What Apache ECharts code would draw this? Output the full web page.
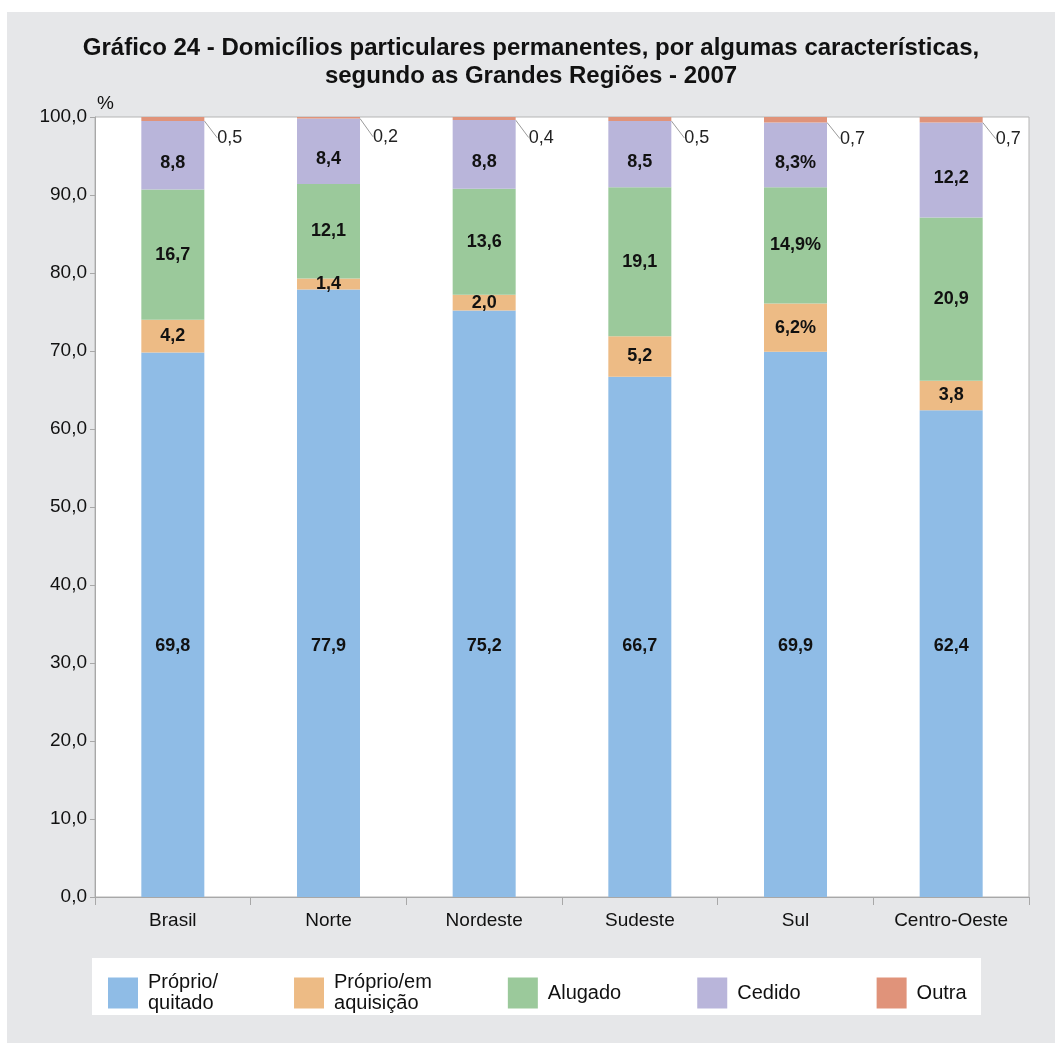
<!DOCTYPE html>
<html>
<head>
<meta charset="utf-8">
<title>Gráfico 24</title>
<script src="https://cdn.jsdelivr.net/npm/echarts@6/dist/echarts.min.js"></script>
<style>
  html, body { margin: 0; padding: 0; background: #ffffff; }
  #main {
    position: absolute;
    left: 7px;
    top: 12px;
    width: 1048px;
    height: 1031px;
    background: #e6e7e9;
  }
</style>
</head>
<body>
<div id="main"></div>
<script>
// categorias (Grandes Regiões)
const regioes = ['Brasil', 'Norte', 'Nordeste', 'Sudeste', 'Sul', 'Centro-Oeste']

// séries, em %
const proprioQuitado = [69.8, 77.9, 75.2, 66.7, 69.9, 62.4]
const proprioAquisicao = [4.2, 1.4, 2.0, 5.2, 6.2, 3.8]
const alugado = [16.7, 12.1, 13.6, 19.1, 14.9, 20.9]
const cedido = [8.8, 8.4, 8.8, 8.5, 8.3, 12.2]
const outra = [0.5, 0.2, 0.4, 0.5, 0.7, 0.7]

// o gráfico original traz "%" em alguns rótulos da região Sul
const sufixoRotulo = ['', '', '', '', '%', '']

const nomes = ['Próprio/\nquitado', 'Próprio/em\naquisição', 'Alugado', 'Cedido', 'Outra']
const cores = ['#8fbce6', '#edbb85', '#9bc99b', '#b9b5da', '#e0937a']

const fonte = '"Liberation Sans", Arial, sans-serif'
const fmt = v => v.toFixed(1).replace('.', ',')

const chart = echarts.init(document.getElementById('main'))

function rotuloInterno(comSufixo) {
  return {
    show: true,
    position: 'inside',
    color: '#111',
    fontFamily: fonte,
    fontSize: 18,
    fontWeight: 'bold',
    formatter: p => fmt(p.value) + (comSufixo ? sufixoRotulo[p.dataIndex] : '')
  }
}

const dados = [proprioQuitado, proprioAquisicao, alugado, cedido, outra]

const series = dados.map((d, i) => {
  const s = {
    name: nomes[i],
    type: 'bar',
    stack: 'total',
    barWidth: 63,
    data: d,
    itemStyle: {color: cores[i]},
    label: rotuloInterno(i >= 1 && i <= 3)
  }
  if (i === 0) {
    // no original os rótulos da primeira série ficam todos na mesma altura
    s.label.position = 'insideBottom'
    s.label.distance = 242
  }
  if (i === 3) {
    s.labelLayout = {dy: 8}
  }
  if (i === 4) {
    s.label = {
      show: true,
      position: 'right',
      distance: 5,
      color: '#222',
      fontFamily: fonte,
      fontSize: 18,
      formatter: p => fmt(p.value)
    }
    s.labelLayout = {dx: 8, dy: 19}
    s.labelLine = {show: true, lineStyle: {color: '#9a9a9a', width: 1}}
  }
  return s
})

chart.setOption({
  animation: false,
  backgroundColor: '#e6e7e9',
  textStyle: {fontFamily: fonte},
  title: {
    text: 'Gráfico 24 - Domicílios particulares permanentes, por algumas características,\nsegundo as Grandes Regiões - 2007',
    left: 'center',
    top: 17,
    padding: [5, 0, 5, 10],
    textStyle: {
      fontFamily: fonte,
      fontSize: 24,
      fontWeight: 'bold',
      color: '#111',
      lineHeight: 28
    }
  },
  graphic: [{
    type: 'rect',
    left: 85,
    top: 946,
    shape: {width: 889, height: 57},
    style: {fill: '#ffffff'},
    z: -1
  }],
  legend: {
    left: 96,
    top: 954,
    itemWidth: 30,
    itemHeight: 31,
    itemGap: 76,
    icon: 'rect',
    data: nomes,
    textStyle: {
      fontFamily: fonte,
      fontSize: 20,
      lineHeight: 21,
      color: '#111',
      padding: [2, 0, 0, 5]
    }
  },
  grid: {
    left: 88,
    right: 26,
    top: 105,
    bottom: 146,
    show: true,
    backgroundColor: '#ffffff',
    borderColor: '#b5b5b5',
    borderWidth: 1
  },
  xAxis: {
    type: 'category',
    data: regioes,
    axisLine: {lineStyle: {color: '#a8a8a8'}},
    axisTick: {show: true, alignWithLabel: false, length: 8, lineStyle: {color: '#a8a8a8'}},
    axisLabel: {
      color: '#111',
      fontFamily: fonte,
      fontSize: 19,
      margin: 14
    }
  },
  yAxis: {
    type: 'value',
    min: 0,
    max: 100,
    interval: 10,
    name: '%',
    nameLocation: 'end',
    nameGap: 4,
    nameTextStyle: {
      color: '#111',
      fontFamily: fonte,
      fontSize: 19,
      align: 'left',
      padding: [0, 0, 0, 2]
    },
    axisLine: {show: true, lineStyle: {color: '#a8a8a8'}},
    axisTick: {show: true, length: 5, lineStyle: {color: '#a8a8a8'}},
    splitLine: {show: false},
    axisLabel: {
      color: '#111',
      fontFamily: fonte,
      fontSize: 19,
      margin: 8,
      formatter: v => fmt(v)
    }
  },
  series: series
})
</script>
</body>
</html>
